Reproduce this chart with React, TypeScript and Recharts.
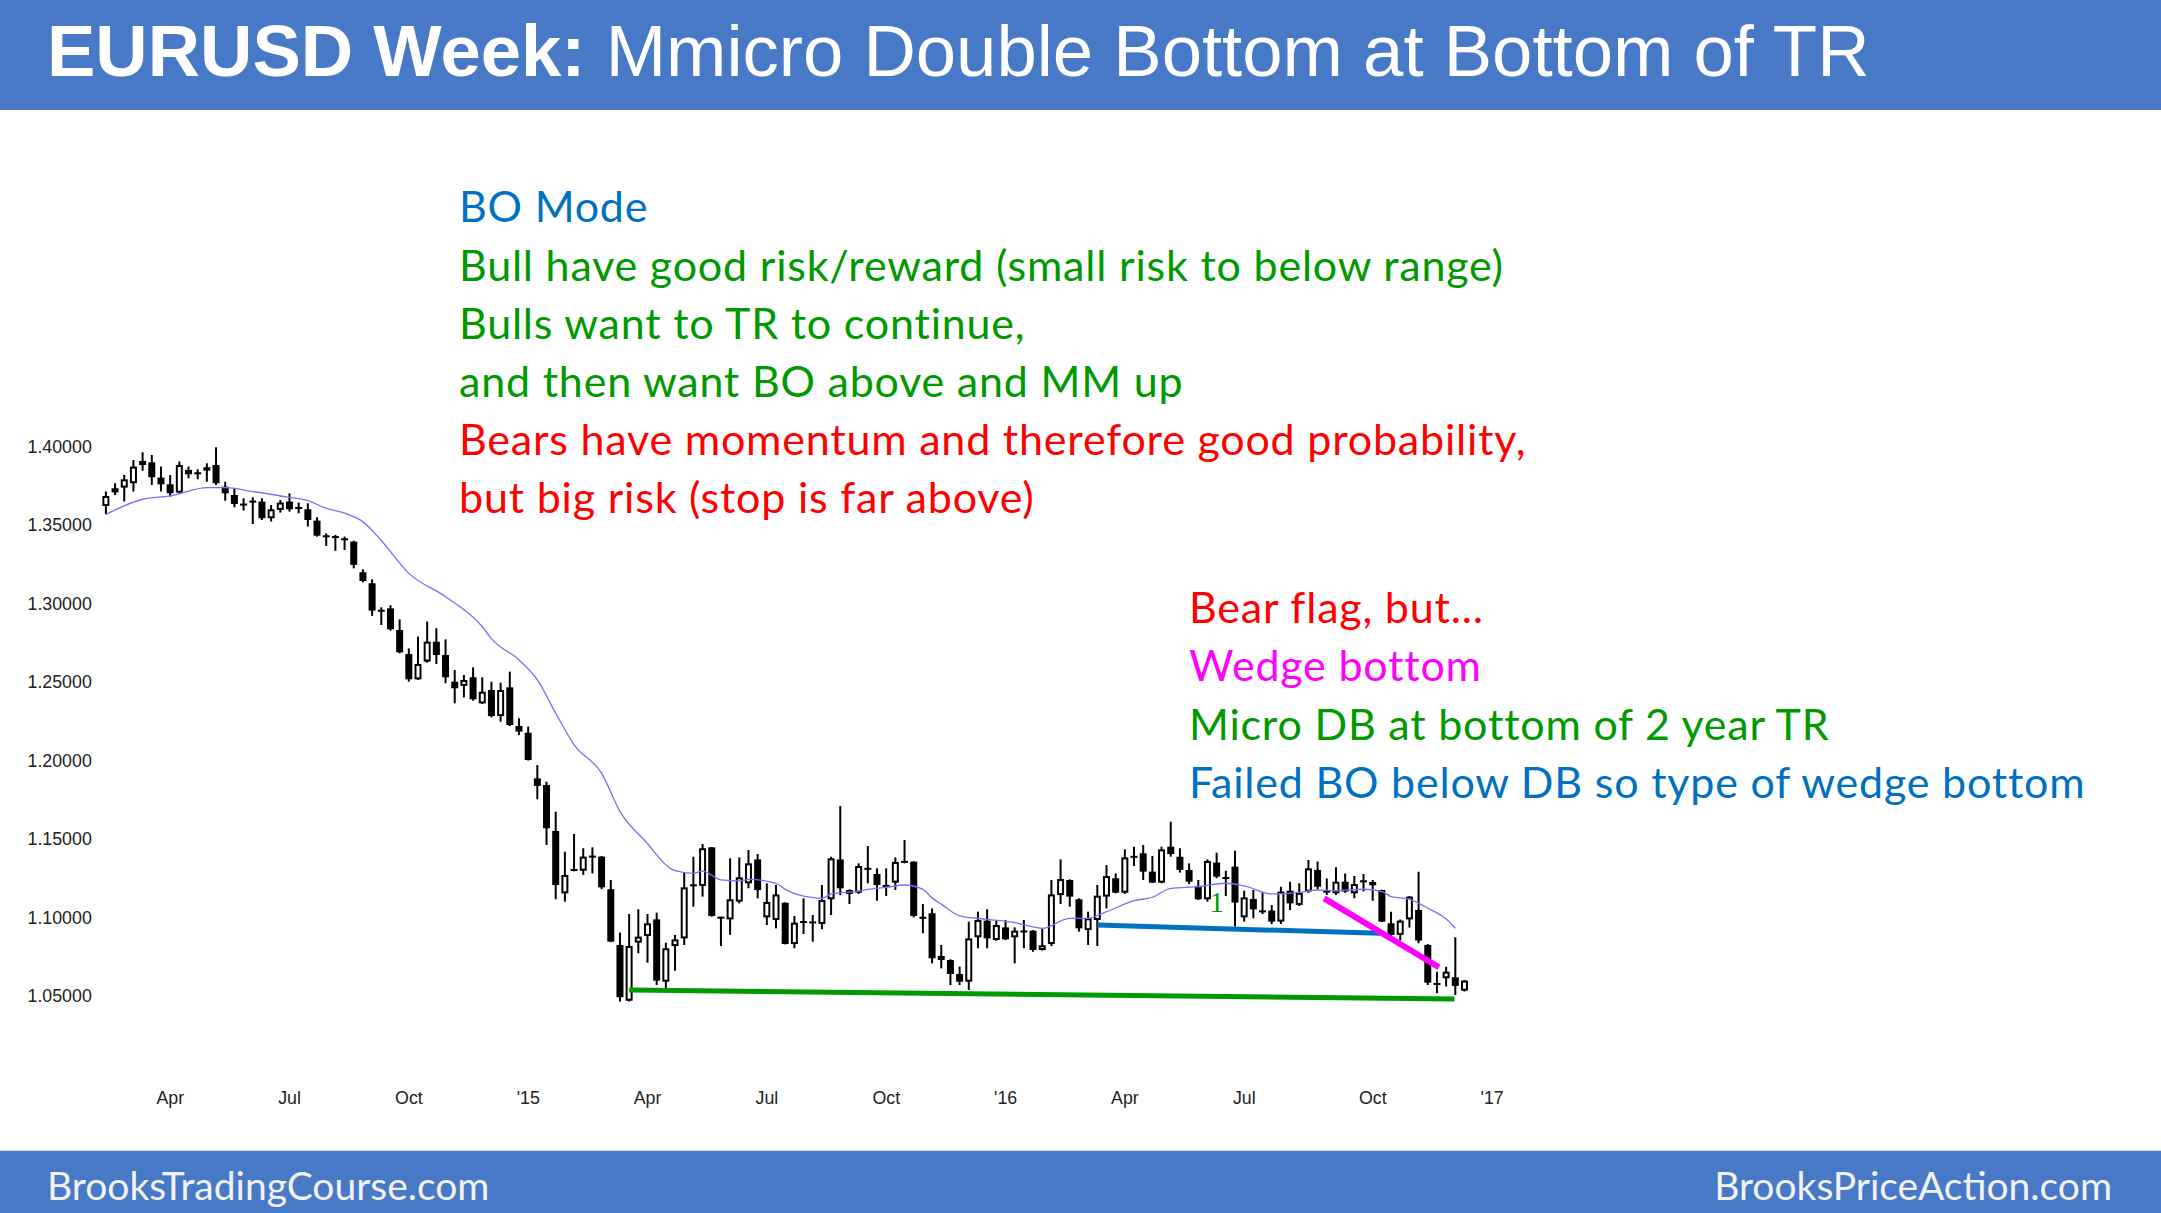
import React from 'react';
import { ComposedChart, Bar, Line, XAxis, YAxis, ReferenceLine, ReferenceDot } from 'recharts';

// weekly EURUSD candles, Feb 2014 .. Dec 2016 (index 0 = week of 10 Feb 2014)
const opens = [
  1.3621, 1.3708, 1.3738, 1.3766, 1.3882, 1.3899, 1.3802, 1.3759, 1.3706, 1.3851,
  1.3834, 1.3846, 1.3882, 1.3744, 1.3691, 1.3634, 1.3653, 1.3649, 1.3543, 1.3596,
  1.3649, 1.3613, 1.3600, 1.3528, 1.3430, 1.3426, 1.3413, 1.3394, 1.3199, 1.3129,
  1.2959, 1.2969, 1.2831, 1.2678, 1.2517, 1.2630, 1.2757, 1.2672, 1.2502, 1.2475,
  1.2530, 1.2364, 1.2449, 1.2283, 1.2466, 1.2220, 1.2177, 1.1886, 1.1844, 1.1551,
  1.1154, 1.1307, 1.1298, 1.1392, 1.1388, 1.1180, 1.0825, 1.0470, 1.0840, 1.0882,
  1.0988, 1.0591, 1.0818, 1.0867, 1.1201, 1.1201, 1.1447, 1.1001, 1.0988, 1.1101,
  1.1218, 1.1370, 1.1001, 1.0984, 1.1094, 1.0831, 1.0969, 1.0978, 1.0959, 1.1116,
  1.1370, 1.1175, 1.1158, 1.1317, 1.1277, 1.1203, 1.1222, 1.1360, 1.1356, 1.1001,
  1.1027, 1.0729, 1.0729, 1.0640, 1.0591, 1.0874, 1.0980, 1.0857, 1.0937, 1.0874,
  1.0914, 1.0916, 1.0793, 1.0831, 1.1143, 1.1239, 1.1116, 1.0920, 1.0984, 1.1133,
  1.1250, 1.1158, 1.1390, 1.1409, 1.1292, 1.1222, 1.1451, 1.1387, 1.1303, 1.1201,
  1.1116, 1.1350, 1.1256, 1.1324, 1.1001, 1.1118, 1.1043, 1.1044, 1.0974, 1.1171,
  1.1080, 1.1165, 1.1303, 1.1171, 1.1154, 1.1228, 1.1154, 1.1235, 1.1226, 1.1175,
  1.0963, 1.0889, 1.0988, 1.1048, 1.0825, 1.0581, 1.0613, 1.0619, 1.0534,
];
const highs = [
  1.3713, 1.3766, 1.3819, 1.3914, 1.3963, 1.3946, 1.3872, 1.3819, 1.3904, 1.3872,
  1.3855, 1.3893, 1.3995, 1.3776, 1.3734, 1.3670, 1.3676, 1.3670, 1.3628, 1.3659,
  1.3702, 1.3643, 1.3638, 1.3549, 1.3447, 1.3437, 1.3426, 1.3400, 1.3218, 1.3154,
  1.2976, 1.2990, 1.2899, 1.2714, 1.2789, 1.2885, 1.2842, 1.2772, 1.2576, 1.2545,
  1.2593, 1.2530, 1.2502, 1.2496, 1.2566, 1.2269, 1.2216, 1.1971, 1.1865, 1.1674,
  1.1419, 1.1532, 1.1441, 1.1447, 1.1392, 1.1239, 1.0904, 1.1022, 1.1052, 1.1022,
  1.1031, 1.0840, 1.0889, 1.1286, 1.1387, 1.1468, 1.1449, 1.1005, 1.1377, 1.1383,
  1.1430, 1.1404, 1.1218, 1.1207, 1.1096, 1.1010, 1.1122, 1.1016, 1.1207, 1.1387,
  1.1710, 1.1179, 1.1345, 1.1455, 1.1313, 1.1313, 1.1383, 1.1494, 1.1358, 1.1086,
  1.1058, 1.0825, 1.0734, 1.0687, 1.0973, 1.1037, 1.1052, 1.0980, 1.0984, 1.0937,
  1.0984, 1.0920, 1.0931, 1.1239, 1.1370, 1.1243, 1.1122, 1.1037, 1.1207, 1.1334,
  1.1281, 1.1434, 1.1451, 1.1462, 1.1392, 1.1451, 1.1610, 1.1441, 1.1345, 1.1239,
  1.1370, 1.1413, 1.1298, 1.1426, 1.1171, 1.1175, 1.1158, 1.1080, 1.1196, 1.1228,
  1.1218, 1.1366, 1.1356, 1.1249, 1.1320, 1.1281, 1.1264, 1.1277, 1.1239, 1.1177,
  1.1037, 1.0988, 1.1137, 1.1292, 1.0831, 1.0655, 1.0687, 1.0874, 1.0602,
];
const lows = [
  1.3568, 1.3691, 1.3649, 1.3713, 1.3846, 1.3755, 1.3713, 1.3681, 1.3702, 1.3798,
  1.3791, 1.3776, 1.3755, 1.3655, 1.3613, 1.3592, 1.3507, 1.3532, 1.3522, 1.3579,
  1.3585, 1.3575, 1.3490, 1.3426, 1.3367, 1.3335, 1.3341, 1.3224, 1.3135, 1.2921,
  1.2863, 1.2827, 1.2683, 1.2502, 1.2513, 1.2623, 1.2615, 1.2492, 1.2364, 1.2402,
  1.2381, 1.2360, 1.2275, 1.2247, 1.2220, 1.2162, 1.2000, 1.1753, 1.1462, 1.1116,
  1.1101, 1.1294, 1.1271, 1.1281, 1.1180, 1.0843, 1.0464, 1.0465, 1.0772, 1.0712,
  1.0570, 1.0549, 1.0661, 1.0825, 1.1069, 1.1133, 1.1005, 1.0818, 1.0889, 1.1090,
  1.1186, 1.1122, 1.0952, 1.0931, 1.0829, 1.0804, 1.0895, 1.0846, 1.0925, 1.1016,
  1.1143, 1.1086, 1.1150, 1.1218, 1.1107, 1.1137, 1.1175, 1.1345, 1.1001, 1.0899,
  1.0708, 1.0676, 1.0570, 1.0570, 1.0538, 1.0804, 1.0804, 1.0852, 1.0857, 1.0708,
  1.0804, 1.0782, 1.0789, 1.0818, 1.1086, 1.1069, 1.0910, 1.0825, 1.0818, 1.1058,
  1.1154, 1.1150, 1.1328, 1.1239, 1.1220, 1.1218, 1.1387, 1.1286, 1.1213, 1.1112,
  1.1101, 1.1250, 1.1137, 1.0942, 1.0974, 1.0995, 1.1022, 1.0959, 1.0959, 1.1048,
  1.1073, 1.1158, 1.1179, 1.1143, 1.1143, 1.1158, 1.1122, 1.1165, 1.1107, 1.0972,
  1.0882, 1.0853, 1.0937, 1.0836, 1.0570, 1.0517, 1.0560, 1.0507, 1.0528,
];
const closes = [
  1.3685, 1.3734, 1.3791, 1.3872, 1.3908, 1.3804, 1.3759, 1.3702, 1.3882, 1.3823,
  1.3825, 1.3868, 1.3766, 1.3702, 1.3634, 1.3626, 1.3645, 1.3543, 1.3600, 1.3643,
  1.3600, 1.3604, 1.3532, 1.3432, 1.3426, 1.3420, 1.3405, 1.3246, 1.3143, 1.2955,
  1.2949, 1.2836, 1.2689, 1.2517, 1.2615, 1.2757, 1.2672, 1.2530, 1.2460, 1.2513,
  1.2390, 1.2438, 1.2283, 1.2449, 1.2226, 1.2184, 1.2003, 1.1838, 1.1568, 1.1207,
  1.1271, 1.1298, 1.1388, 1.1384, 1.1192, 1.0846, 1.0492, 1.0819, 1.0878, 1.0963,
  1.0598, 1.0804, 1.0861, 1.1192, 1.1209, 1.1441, 1.1010, 1.0997, 1.1116, 1.1256,
  1.1345, 1.1175, 1.1099, 1.1147, 1.0831, 1.0967, 1.0973, 1.0959, 1.1112, 1.1377,
  1.1186, 1.1150, 1.1328, 1.1303, 1.1207, 1.1199, 1.1354, 1.1349, 1.1010, 1.0995,
  1.0740, 1.0755, 1.0640, 1.0591, 1.0867, 1.0984, 1.0867, 1.0952, 1.0861, 1.0916,
  1.0908, 1.0793, 1.0823, 1.1147, 1.1245, 1.1133, 1.0931, 1.0995, 1.1139, 1.1264,
  1.1158, 1.1383, 1.1383, 1.1292, 1.1222, 1.1434, 1.1404, 1.1303, 1.1228, 1.1116,
  1.1360, 1.1260, 1.1247, 1.1095, 1.1128, 1.1052, 1.1035, 1.0974, 1.1165, 1.1090,
  1.1158, 1.1313, 1.1196, 1.1158, 1.1228, 1.1165, 1.1213, 1.1226, 1.1205, 1.0974,
  1.0889, 1.0980, 1.1133, 1.0853, 1.0585, 1.0572, 1.0655, 1.0564, 1.0598,
];

// moving average at these bar indexes
const maIndex = [
  0, 4, 7, 11, 13, 16, 20, 22, 24, 26, 28, 30, 33, 37, 41, 42, 45, 47, 49, 51,
  54, 56, 59, 61, 62, 64, 65, 67, 69, 70, 73, 74, 77, 78, 79, 82, 83, 85, 87, 89,
  90, 91, 93, 96, 99, 102, 105, 107, 109, 112, 114, 116, 119, 122, 124, 127, 130, 132, 134, 137,
  139, 140, 142, 144, 146, 147,
];
const maValue = [
  1.3568, 1.3664, 1.3685, 1.3738, 1.3738, 1.3713, 1.3676, 1.3655, 1.3606, 1.3575,
  1.3520, 1.3400, 1.3192, 1.3043, 1.2852, 1.2775, 1.2640, 1.2513, 1.2300, 1.2100,
  1.1918, 1.1674, 1.1470, 1.1335, 1.1298, 1.1281, 1.1296, 1.1239, 1.1233, 1.1243,
  1.1218, 1.1179, 1.1126, 1.1122, 1.1150, 1.1168, 1.1179, 1.1192, 1.1207, 1.1179,
  1.1125, 1.1085, 1.1010, 1.0988, 1.0967, 1.0931, 1.0995, 1.0995, 1.1037, 1.1107,
  1.1129, 1.1186, 1.1196, 1.1218, 1.1201, 1.1150, 1.1160, 1.1175, 1.1171, 1.1180,
  1.1165, 1.1133, 1.1116, 1.1059, 1.0990, 1.0931,
];

const tickIndex = [7, 20, 33, 46, 59, 72, 85, 98, 111, 124, 138, 151];
const tickLabels = ['Apr', 'Jul', 'Oct', "'15", 'Apr', 'Jul', 'Oct', "'16", 'Apr', 'Jul', 'Oct', "'17"];
const priceTicks = [1.05, 1.1, 1.15, 1.2, 1.25, 1.3, 1.35, 1.4];

// drawn lines: [from index, from price, to index, to price]
const rangeBottom = [57, 1.0538, 146.9, 1.0481];
const dbNeckline = [108, 1.0952, 138.8, 1.0899];
const wedgeLine = [132.7, 1.1122, 145.2, 1.0683];
const labelOne = [121, 1.1101];

const data = opens.map((o, i) => ({
  i,
  open: o,
  high: highs[i],
  low: lows[i],
  close: closes[i],
  range: [lows[i], highs[i]],
  ma: null as number | null,
}));
maIndex.forEach((k, j) => {
  data[k].ma = maValue[j];
});

const GREEN = '#009900';
const RED = '#ff0000';
const BLUE = '#0070c0';

function Candle(props: any) {
  const { x, y, width, height, payload } = props;
  if (!payload) return null;
  const { open, close, high, low } = payload;
  const cx = x + width / 2;
  const k = height / (high - low);
  const py = (v: number) => y + (high - v) * k;
  const top = py(Math.max(open, close));
  const bot = py(Math.min(open, close));
  const bh = bot - top;
  return (
    <g>
      <line x1={cx} x2={cx} y1={y} y2={y + height} stroke="#000" strokeWidth={2} />
      {bh < 3 ? (
        <rect x={cx - 3.5} y={(top + bot) / 2 - 1} width={7} height={2} fill="#000" />
      ) : (
        <rect
          x={cx - 2.5}
          y={top + 1}
          width={5}
          height={bh - 2}
          fill={close >= open ? '#fff' : '#000'}
          stroke="#000"
          strokeWidth={2}
        />
      )}
    </g>
  );
}

const block1: [string, string][] = [
  ['BO Mode', BLUE],
  ['Bull have good risk/reward (small risk to below range)', GREEN],
  ['Bulls want to TR to continue,', GREEN],
  ['and then want BO above and MM up', GREEN],
  ['Bears have momentum and therefore good probability,', RED],
  ['but big risk (stop is far above)', RED],
];
const block2: [string, string][] = [
  ['Bear flag, but\u2026', RED],
  ['Wedge bottom', '#ff00ff'],
  ['Micro DB at bottom of 2 year TR', GREEN],
  ['Failed BO below DB so type of wedge bottom', BLUE],
];

const axisFont = { fontFamily: 'Liberation Sans, Arial, sans-serif', fontSize: 17.8, fill: '#222' };
const noteStyle = { fontSize: 43, fontFamily: 'Lato, sans-serif', letterSpacing: 0.8 };

export default function App() {
  return (
    <div style={{ position: 'absolute', left: 0, top: 0, width: 2161, height: 1213, background: '#fff', overflow: 'hidden' }}>
      <div style={{ position: 'absolute', left: 0, top: 0 }}>
        <ComposedChart
          width={1511.3}
          height={1114.5}
          data={data}
          margin={{ top: 368, right: 10, left: 0, bottom: 0 }}
        >
          <XAxis
            dataKey="i"
            type="number"
            domain={[-1, 152]}
            ticks={tickIndex}
            interval={0}
            tickFormatter={(v: number) => tickLabels[tickIndex.indexOf(v)] ?? ''}
            axisLine={false}
            tickLine={false}
            tickSize={0}
            tickMargin={17}
            height={40}
            tick={axisFont}
            allowDataOverflow
          />
          <YAxis
            type="number"
            domain={[1.0, 1.45]}
            ticks={priceTicks}
            interval={0}
            tickFormatter={(v: number) => v.toFixed(5)}
            axisLine={false}
            tickLine={false}
            tickSize={0}
            tickMargin={5}
            width={96.8}
            tick={axisFont}
            allowDataOverflow
          />
          <Bar dataKey="range" barSize={7} shape={<Candle />} isAnimationActive={false} />
          <Line
            dataKey="ma"
            type="monotone"
            stroke="#7272ff"
            strokeWidth={1.3}
            dot={false}
            connectNulls
            isAnimationActive={false}
          />
          <ReferenceLine
            segment={[{ x: rangeBottom[0], y: rangeBottom[1] }, { x: rangeBottom[2], y: rangeBottom[3] }]}
            stroke={GREEN}
            strokeWidth={5}
          />
          <ReferenceLine
            segment={[{ x: dbNeckline[0], y: dbNeckline[1] }, { x: dbNeckline[2], y: dbNeckline[3] }]}
            stroke={BLUE}
            strokeWidth={5}
          />
          <ReferenceLine
            segment={[{ x: wedgeLine[0], y: wedgeLine[1] }, { x: wedgeLine[2], y: wedgeLine[3] }]}
            stroke="#ff00ff"
            strokeWidth={6}
          />
          <ReferenceDot
            x={labelOne[0]}
            y={labelOne[1]}
            r={1}
            fill="none"
            stroke="none"
            label={{ value: '1', position: 'center', fill: GREEN, fontSize: 29, fontFamily: 'Liberation Serif, serif' }}
          />
        </ComposedChart>
      </div>
      <svg
        width={2161}
        height={1213}
        style={{ position: 'absolute', left: 0, top: 0, pointerEvents: 'none' }}
      >
        <rect x={0} y={0} width={2161} height={110} fill="#4879c7" />
        <rect x={0} y={1150.7} width={2161} height={62.3} fill="#4879c7" />
        <text x={47} y={76} fill="#fff" fontSize={72.5} fontFamily="Liberation Sans, Arial, sans-serif">
          <tspan fontWeight="bold">EURUSD Week:</tspan>
          {' Mmicro Double Bottom at Bottom of TR'}
        </text>
        {block1.map(([t, c], n) => (
          <text key={t} x={459} y={222.4 + n * 58.1} fill={c} style={noteStyle}>
            {t}
          </text>
        ))}
        {block2.map(([t, c], n) => (
          <text key={t} x={1189} y={623.1 + n * 58.3} fill={c} style={noteStyle}>
            {t}
          </text>
        ))}
        <text x={47} y={1200} fill="#f2f2f2" fontSize={39} fontFamily="Lato, sans-serif">
          BrooksTradingCourse.com
        </text>
        <text x={2112} y={1200} fill="#f2f2f2" fontSize={39} textAnchor="end" fontFamily="Lato, sans-serif">
          BrooksPriceAction.com
        </text>
      </svg>
    </div>
  );
}
